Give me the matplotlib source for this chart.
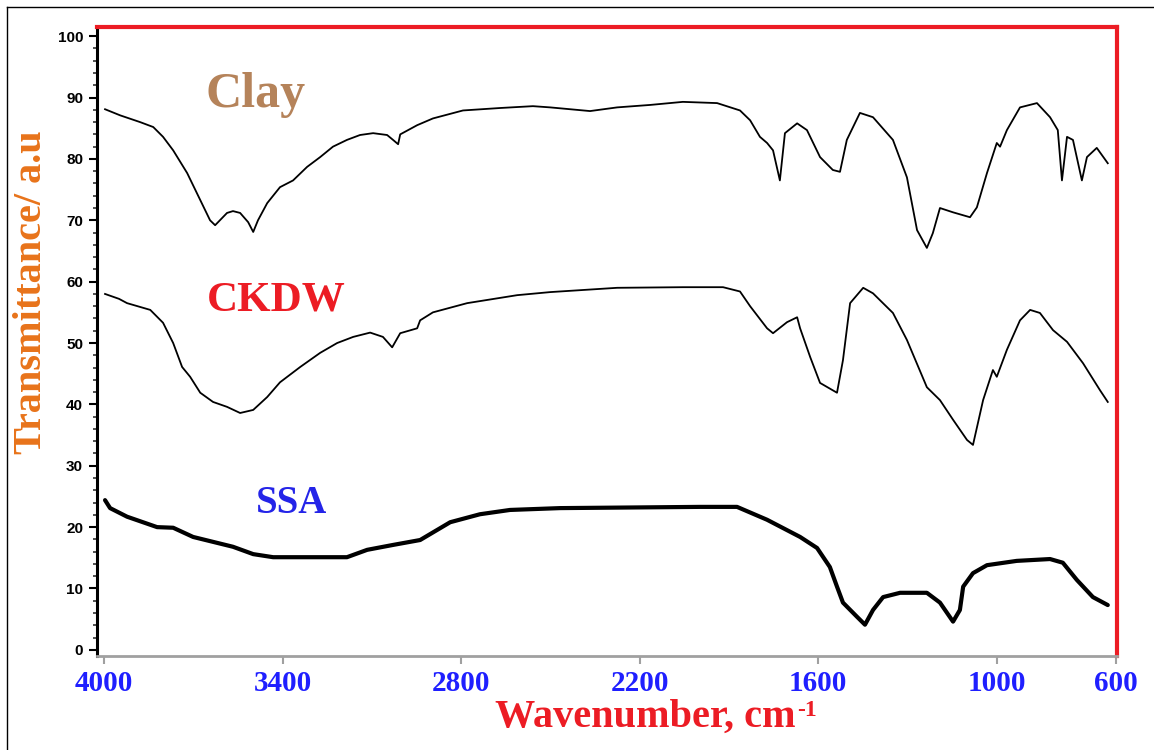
import matplotlib
matplotlib.use('Agg')
import matplotlib.pyplot as plt
from matplotlib.ticker import MultipleLocator
from matplotlib.lines import Line2D

# wavenumbers (cm-1) and transmittance
clay_x = [3997, 3946, 3879, 3835, 3802, 3768, 3721, 3677, 3644, 3627, 3587, 3567, 3543, 3516,
          3499, 3483, 3452, 3409, 3365, 3318, 3274, 3231, 3184, 3140, 3096, 3049, 3029, 3012,
          3005, 2948, 2895, 2794, 2669, 2559, 2501, 2367, 2276, 2165, 2055, 1940, 1863, 1829,
          1796, 1772, 1752, 1729, 1712, 1671, 1638, 1594, 1551, 1527, 1504, 1460, 1416, 1349,
          1302, 1268, 1235, 1215, 1191, 1147, 1090, 1067, 1033, 1000, 989, 966, 922, 865,
          821, 795, 781, 764, 744, 714, 697, 664, 627]
clay_y = [88.1, 87.1, 86.0, 85.2, 83.6, 81.4, 77.7, 73.3, 70.0, 69.2, 71.2, 71.5, 71.2, 69.7,
          68.1, 70.0, 72.8, 75.4, 76.5, 78.7, 80.3, 82.0, 83.1, 83.9, 84.2, 83.9, 83.1, 82.4,
          84.0, 85.5, 86.6, 87.9, 88.3, 88.6, 88.4, 87.8, 88.4, 88.8, 89.3, 89.1, 87.9, 86.3,
          83.6, 82.6, 81.4, 76.5, 84.2, 85.8, 84.7, 80.3, 78.2, 77.9, 83.1, 87.5, 86.8, 83.1,
          77.0, 68.4, 65.5, 67.9, 72.0, 71.3, 70.5, 72.1, 77.7, 82.6, 82.0, 84.7, 88.4, 89.1,
          86.8, 84.7, 76.5, 83.6, 83.1, 76.5, 80.3, 81.8, 79.3]

ckdw_x = [3997, 3950, 3923, 3845, 3802, 3768, 3738, 3711, 3677, 3634, 3587, 3543, 3499, 3452,
          3409, 3341, 3274, 3217, 3163, 3106, 3063, 3032, 3005, 2948, 2938, 2895, 2780, 2612,
          2501, 2276, 2055, 1920, 1863, 1829, 1772, 1752, 1705, 1671, 1661, 1627, 1594, 1537,
          1517, 1493, 1449, 1416, 1349, 1302, 1235, 1191, 1147, 1100, 1080, 1046, 1013, 1000,
          966, 922, 888, 855, 811, 764, 710, 653, 627]
ckdw_y = [58.0, 57.2, 56.5, 55.4, 53.3, 50.0, 46.1, 44.5, 41.9, 40.4, 39.6, 38.6, 39.1, 41.2,
          43.6, 46.1, 48.4, 50.0, 51.0, 51.7, 51.0, 49.3, 51.6, 52.4, 53.7, 55.0, 56.5, 57.8,
          58.3, 59.0, 59.1, 59.1, 58.4, 56.0, 52.4, 51.6, 53.4, 54.2, 52.4, 47.7, 43.5, 41.9,
          47.2, 56.5, 59.0, 58.1, 54.9, 50.5, 42.8, 40.7, 37.5, 34.2, 33.4, 40.7, 45.6, 44.5,
          48.9, 53.7, 55.4, 54.9, 52.1, 50.2, 46.7, 42.3, 40.4]

ssa_x = [3997, 3980, 3923, 3822, 3768, 3701, 3634, 3567, 3499, 3432, 3341, 3231, 3184, 3116,
         3029, 2938, 2837, 2737, 2636, 2468, 1997, 1873, 1772, 1661, 1604, 1561, 1537, 1517,
         1470, 1443, 1416, 1382, 1325, 1235, 1191, 1147, 1124, 1113, 1080, 1033, 933, 821,
         778, 731, 677, 627]
ssa_y = [24.4, 23.1, 21.7, 20.0, 19.9, 18.4, 17.6, 16.8, 15.6, 15.1, 15.1, 15.1, 15.1, 16.3,
         17.1, 17.9, 20.8, 22.1, 22.8, 23.1, 23.3, 23.3, 21.2, 18.4, 16.6, 13.5, 10.3, 7.7,
         5.4, 4.1, 6.5, 8.6, 9.3, 9.3, 7.7, 4.6, 6.5, 10.3, 12.5, 13.8, 14.5, 14.8,
         14.2, 11.4, 8.6, 7.3]

x_ticks = [4000, 3400, 2800, 2200, 1600, 1000, 600]

serif = 'Liberation Serif'

fig = plt.figure(figsize=(11.54, 7.5), dpi=100)
ax = fig.add_axes([97/1154, 1 - 656/750, 1020/1154, 629/750])

ax.plot(clay_x, clay_y, color='black', lw=1.3, solid_joinstyle='round')
ax.plot(ckdw_x, ckdw_y, color='black', lw=1.3, solid_joinstyle='round')
ax.plot(ssa_x, ssa_y, color='black', lw=3.0, solid_capstyle='round', solid_joinstyle='round')

ax.set_xlim(4024, 596)
ax.set_ylim(-1, 101.5)

ax.set_xticks(x_ticks)
ax.set_xticklabels([str(v) for v in x_ticks], fontfamily=serif, fontweight='bold',
                   fontsize=21, color='#1f1fff')
ax.tick_params(axis='x', direction='out', length=6, width=1.5, color='#a0a0a0', pad=4)

ax.yaxis.set_major_locator(MultipleLocator(10))
ax.yaxis.set_minor_locator(MultipleLocator(2))
ax.tick_params(axis='y', which='major', direction='out', length=6, width=1.5,
               color='black', labelsize=11, pad=4)
ax.tick_params(axis='y', which='minor', direction='out', length=3, width=1.2, color='#333333')
for lab in ax.get_yticklabels():
    lab.set_fontweight('bold')
    lab.set_fontfamily('Liberation Sans')

ax.spines['left'].set_color('black')
ax.spines['left'].set_linewidth(2.2)
ax.spines['bottom'].set_color('#a0a0a0')
ax.spines['bottom'].set_linewidth(2)
ax.spines['top'].set_color('#ec1c24')
ax.spines['top'].set_linewidth(3)
ax.spines['right'].set_color('#ec1c24')
ax.spines['right'].set_linewidth(3)

ax.text(3490, 90.5, 'Clay', fontfamily=serif, fontweight='bold', fontsize=36,
        color='#b5835a', ha='center', va='center')
ax.text(3420, 57.0, 'CKDW', fontfamily=serif, fontweight='bold', fontsize=31,
        color='#ec1c24', ha='center', va='center')
ax.text(3370, 23.8, 'SSA', fontfamily=serif, fontweight='bold', fontsize=28,
        color='#2424e8', ha='center', va='center')

xl = fig.text(645/1154, 1 - 717/750, 'Wavenumber, cm', fontfamily=serif,
              fontweight='bold', fontsize=29, color='#ec1c24', ha='center', va='center')
ax.annotate('-1', xy=(1, 0.95), xycoords=xl, xytext=(1, 0), textcoords='offset points',
            fontfamily=serif, fontweight='bold', fontsize=17, color='#ec1c24',
            ha='left', va='top')
fig.text(32/1154, 1 - 292/750, 'Transmittance/ a.u', fontfamily=serif, fontweight='bold',
         fontsize=29, color='#e8731a', ha='center', va='center', rotation=90)

# thin frame around the picture
fig.add_artist(Line2D([7/1154, 7/1154], [0, 1 - 7/750], transform=fig.transFigure,
                      color='black', lw=1))
fig.add_artist(Line2D([7/1154, 1], [1 - 7/750, 1 - 7/750], transform=fig.transFigure,
                      color='black', lw=1))

fig.savefig('out.png', dpi=100)
